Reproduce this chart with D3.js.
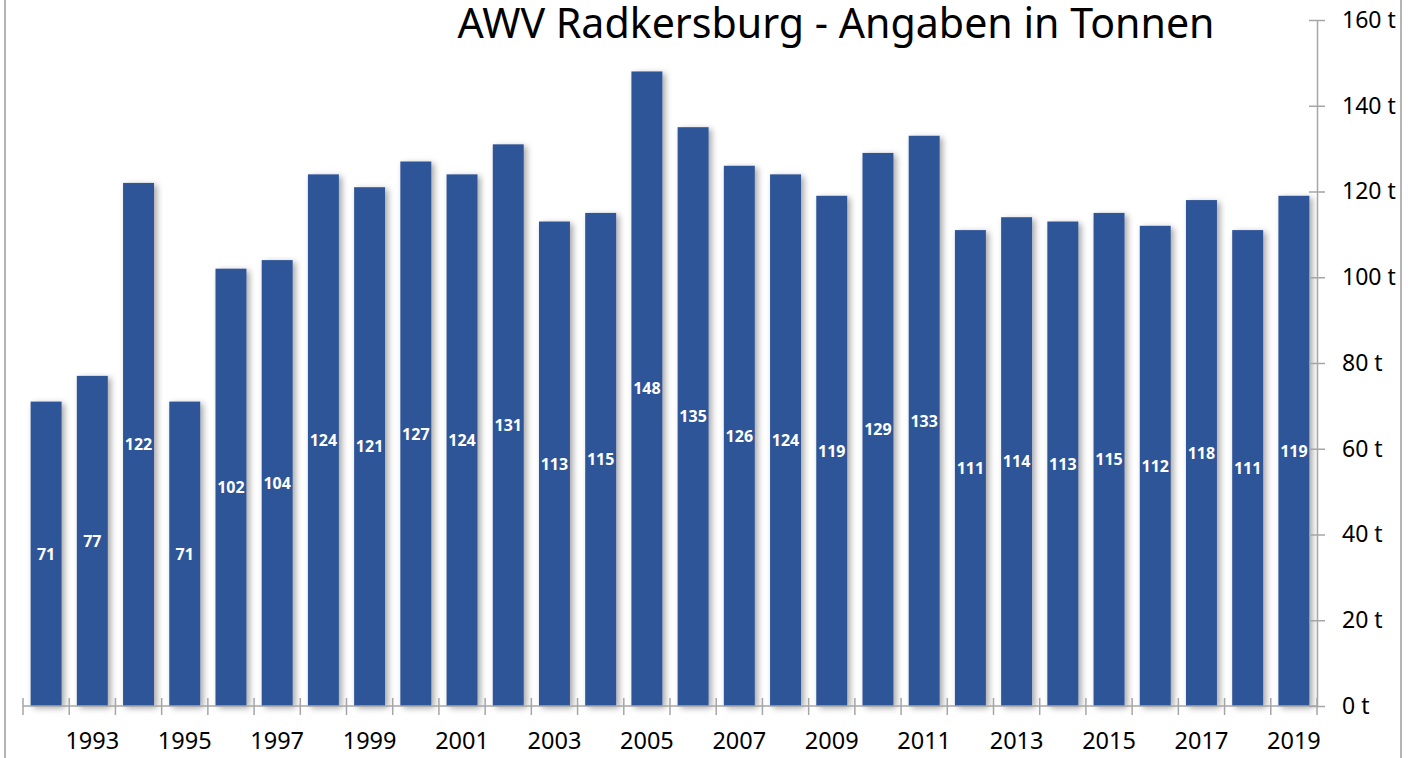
<!DOCTYPE html>
<html>
<head>
<meta charset="utf-8">
<script src="https://cdn.jsdelivr.net/npm/d3@7"></script>
<style>
  body { margin: 0; background: #fff; }
  svg text { font-family: "Noto Sans", "Open Sans", sans-serif; }
</style>
</head>
<body>
<script>
// Tonnen pro Jahr, AWV Radkersburg
var years = [1992, 1993, 1994, 1995, 1996, 1997, 1998, 1999, 2000, 2001,
             2002, 2003, 2004, 2005, 2006, 2007, 2008, 2009, 2010, 2011,
             2012, 2013, 2014, 2015, 2016, 2017, 2018, 2019];
var tonnen = [71, 77, 122, 71, 102, 104, 124, 121, 127, 124,
              131, 113, 115, 148, 135, 126, 124, 119, 129, 133,
              111, 114, 113, 115, 112, 118, 111, 119];
var yTicks = [0, 20, 40, 60, 80, 100, 120, 140, 160];
var title = "AWV Radkersburg - Angaben in Tonnen";

var w = 1416, h = 758;
var plotLeft = 23, plotRight = 1317, plotTop = 20, plotBottom = 706;

var svg = d3.select("body").append("svg").attr("width", w).attr("height", h);

var defs = svg.append("defs");
var f = defs.append("filter").attr("id", "shadow")
  .attr("x", "-30%").attr("y", "-10%").attr("width", "170%").attr("height", "130%");
f.append("feDropShadow").attr("dx", 3).attr("dy", 2).attr("stdDeviation", 3)
  .attr("flood-color", "#000").attr("flood-opacity", 0.35);

// frame lines left and right
svg.append("line").attr("x1", 5).attr("x2", 5).attr("y1", 0).attr("y2", h)
  .attr("stroke", "#b4b4b4").attr("stroke-width", 2);
svg.append("line").attr("x1", 1401).attr("x2", 1401).attr("y1", 0).attr("y2", h)
  .attr("stroke", "#b4b4b4").attr("stroke-width", 2);

var x = d3.scaleBand().domain(years).range([plotLeft, plotRight])
  .paddingInner(0.33).paddingOuter(0.165);
var y = d3.scaleLinear().domain([0, 160]).range([plotBottom, plotTop]);

// bars
svg.append("g").selectAll("rect").data(tonnen).enter().append("rect")
  .attr("x", function(d, i) { return x(years[i]); })
  .attr("y", function(d) { return y(d); })
  .attr("width", x.bandwidth())
  .attr("height", function(d) { return y(0) - y(d); })
  .attr("fill", "#2f5597")
  .attr("filter", "url(#shadow)");

// value labels in the middle of the bar
svg.append("g").selectAll("text").data(tonnen).enter().append("text")
  .attr("x", function(d, i) { return x(years[i]) + x.bandwidth() / 2; })
  .attr("y", function(d) { return (y(d) + y(0)) / 2; })
  .attr("dy", "0.36em")
  .attr("text-anchor", "middle")
  .attr("fill", "#fff")
  .attr("font-weight", "bold")
  .attr("font-size", 16)
  .text(function(d) { return d; });

// x axis
var axisCol = "#a6a6a6";
svg.append("line").attr("x1", plotLeft).attr("x2", plotRight).attr("y1", plotBottom).attr("y2", plotBottom)
  .attr("stroke", axisCol).attr("stroke-width", 1.5);
var bounds = years.map(function(yr) { return x(yr) - x.step() * x.paddingInner() / 2; });
bounds.push(plotRight);
svg.append("g").selectAll("line").data(bounds).enter().append("line")
  .attr("x1", function(d) { return d; }).attr("x2", function(d) { return d; })
  .attr("y1", plotBottom - 8).attr("y2", plotBottom + 9)
  .attr("stroke", axisCol).attr("stroke-width", 1.5);

var xAxis = svg.append("g").attr("transform", "translate(0," + plotBottom + ")")
  .call(d3.axisBottom(x).tickValues(years.filter(function(d) { return d % 2 === 1; })).tickSize(0).tickPadding(26));
xAxis.select(".domain").remove();
xAxis.selectAll("text").attr("font-size", 23.5).attr("fill", "#000")
  .style("font-family", "'Noto Sans', sans-serif");

// y axis on the right
var yAxis = svg.append("g").attr("transform", "translate(" + plotRight + ",0)")
  .call(d3.axisRight(y).tickValues(yTicks).tickFormat(function(d) { return d + " t"; })
    .tickSizeOuter(0).tickSizeInner(8).tickPadding(17));
yAxis.select(".domain").attr("stroke", axisCol).attr("stroke-width", 1.5);
yAxis.selectAll(".tick line").attr("x1", -8).attr("stroke", axisCol).attr("stroke-width", 1.5);
yAxis.selectAll("text").attr("font-size", 23).attr("fill", "#000")
  .style("font-family", "'Noto Sans', sans-serif");

// title
svg.append("text")
  .attr("x", 836).attr("y", 38)
  .attr("text-anchor", "middle")
  .attr("font-size", 42)
  .attr("fill", "#000")
  .attr("textLength", 757)
  .attr("lengthAdjust", "spacingAndGlyphs")
  .text(title);
</script>
</body>
</html>
